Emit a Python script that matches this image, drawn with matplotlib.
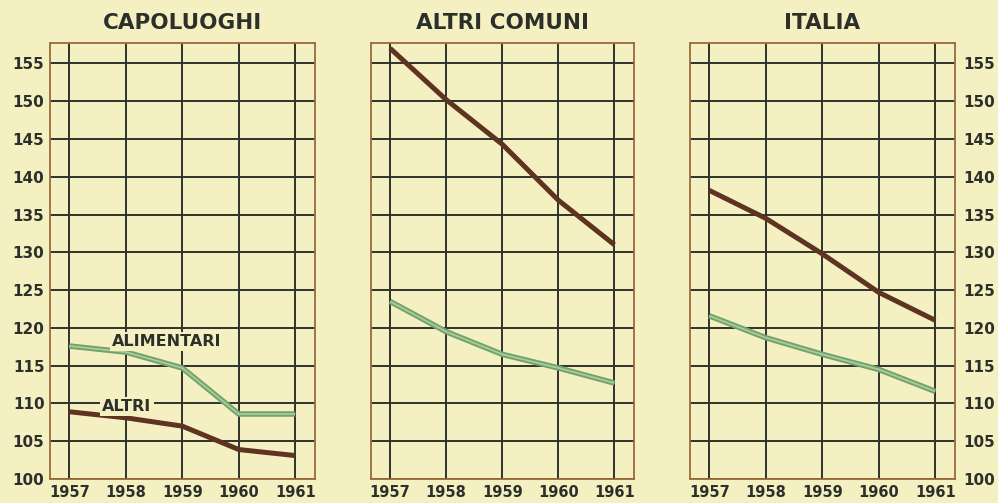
import matplotlib
matplotlib.use("Agg")
import matplotlib.pyplot as plt

years = [1957, 1958, 1959, 1960, 1961]
panels = ["CAPOLUOGHI", "ALTRI COMUNI", "ITALIA"]
alimentari = {
    "CAPOLUOGHI": [117.6, 116.8, 114.7, 108.6, 108.6],
    "ALTRI COMUNI": [123.5, 119.5, 116.5, 114.7, 112.7],
    "ITALIA": [121.6, 118.7, 116.5, 114.5, 111.6],
}
altri = {
    "CAPOLUOGHI": [108.9, 108.1, 107.0, 103.9, 103.1],
    "ALTRI COMUNI": [157.0, 150.2, 144.3, 136.9, 131.0],
    "ITALIA": [138.2, 134.5, 129.8, 124.7, 121.0],
}
yticks = [100, 105, 110, 115, 120, 125, 130, 135, 140, 145, 150, 155]

BG = "#f5f0c2"
BROWN = "#5e3320"
GREEN = "#72a26b"
GREEN_LIGHT = "#aacb9d"
GRID = "#2f322a"
FRAME = "#9a6a3a"
TEXT = "#2c302a"

fig = plt.figure(figsize=(9.98, 5.03), dpi=100, facecolor=BG)

positions = [
    (50 / 998, 24 / 503, 265 / 998, 436 / 503),
    (371 / 998, 24 / 503, 263 / 998, 436 / 503),
    (690 / 998, 24 / 503, 265 / 998, 436 / 503),
]

for i, (name, pos) in enumerate(zip(panels, positions)):
    ax = fig.add_axes(pos)
    ax.set_facecolor(BG)
    ax.set_xlim(1956.66, 1961.35)
    ax.set_ylim(100, 157.7)
    ax.set_xticks(years)
    ax.set_xticklabels([str(y) for y in years], fontsize=10.5, fontweight="bold", color=TEXT)
    ax.set_yticks(yticks)
    for s in ax.spines.values():
        s.set_color(FRAME)
        s.set_linewidth(1.3)
    ax.grid(True, color=GRID, linewidth=1.4, zorder=1)
    ax.set_axisbelow(True)
    ax.tick_params(length=0, pad=4)
    if i == 0:
        ax.set_yticklabels([str(v) for v in yticks], fontsize=11, fontweight="bold", color=TEXT)
    elif i == 2:
        ax.yaxis.tick_right()
        ax.set_yticklabels([str(v) for v in yticks], fontsize=11, fontweight="bold", color=TEXT)
        ax.tick_params(axis="y", pad=6)
    else:
        ax.set_yticklabels([])
    ax.set_title(name, fontsize=15.5, fontweight="bold", color=TEXT, pad=10)

    ax.plot(years, altri[name], color=BROWN, linewidth=3.6, solid_capstyle="butt", zorder=3)
    ax.plot(years, alimentari[name], color=GREEN, linewidth=4.0, solid_capstyle="butt", zorder=3)
    ax.plot(years, alimentari[name], color=GREEN_LIGHT, linewidth=1.3, solid_capstyle="butt", zorder=4)

    if i == 0:
        ax.text(1958.73, 118.2, "ALIMENTARI", fontsize=11.5, fontweight="bold", color=TEXT,
                ha="center", va="center", zorder=5,
                bbox=dict(facecolor=BG, edgecolor="none", pad=1.5))
        ax.text(1958.02, 109.6, "ALTRI", fontsize=11.5, fontweight="bold", color=TEXT,
                ha="center", va="center", zorder=5,
                bbox=dict(facecolor=BG, edgecolor="none", pad=1.5))

fig.savefig("out.png", dpi=100, facecolor=BG)
